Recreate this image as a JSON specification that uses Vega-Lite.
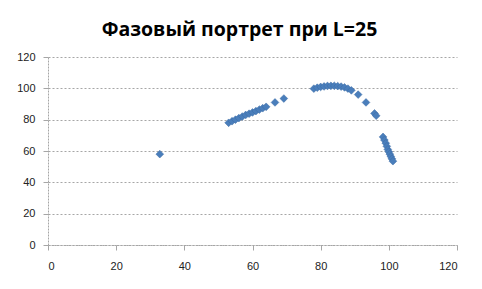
{
  "$schema": "https://vega.github.io/schema/vega-lite/v6.json",
  "autosize": "none",
  "width": 409,
  "height": 188,
  "padding": {"left": 48, "top": 57, "right": 25, "bottom": 44},
  "background": "white",
  "title": {
    "text": "Фазовый портрет при L=25",
    "font": "Open Sans",
    "fontSize": 19.5,
    "fontWeight": "bold",
    "color": "#000000",
    "anchor": "middle",
    "dx": -13,
    "offset": 11
  },
  "config": {
    "view": {"stroke": null},
    "axis": {
      "labelFont": "Liberation Sans",
      "labelFontSize": 11,
      "labelColor": "#222222",
      "gridColor": "#a6a6a6",
      "gridDash": [2, 2],
      "gridWidth": 1,
      "domainColor": "#a6a6a6",
      "domainDash": [2, 1],
      "tickColor": "#a6a6a6",
      "tickSize": 5,
      "title": null
    }
  },
  "data": {
    "values": [
      {"x": 32.8, "y": 58.0},
      {"x": 53.0, "y": 78.0},
      {"x": 54.0, "y": 79.0},
      {"x": 55.0, "y": 80.0},
      {"x": 56.0, "y": 81.0},
      {"x": 57.0, "y": 82.0},
      {"x": 58.0, "y": 83.0},
      {"x": 59.0, "y": 83.8},
      {"x": 60.0, "y": 84.6},
      {"x": 61.0, "y": 85.5},
      {"x": 62.0, "y": 86.4},
      {"x": 63.0, "y": 87.3},
      {"x": 64.0, "y": 88.2},
      {"x": 66.6, "y": 91.0},
      {"x": 69.2, "y": 93.5},
      {"x": 78.0, "y": 99.8},
      {"x": 79.0, "y": 100.4},
      {"x": 80.0, "y": 100.9},
      {"x": 81.0, "y": 101.2},
      {"x": 82.0, "y": 101.5},
      {"x": 83.0, "y": 101.6},
      {"x": 84.0, "y": 101.6},
      {"x": 85.0, "y": 101.4},
      {"x": 86.0, "y": 101.1},
      {"x": 87.0, "y": 100.6},
      {"x": 88.0, "y": 99.8},
      {"x": 89.0, "y": 98.7},
      {"x": 91.0, "y": 96.0},
      {"x": 93.3, "y": 91.0},
      {"x": 95.8, "y": 84.0},
      {"x": 96.3, "y": 82.5},
      {"x": 98.3, "y": 69.0},
      {"x": 98.7, "y": 67.0},
      {"x": 99.1, "y": 65.0},
      {"x": 99.4, "y": 63.0},
      {"x": 99.7, "y": 61.0},
      {"x": 100.0, "y": 59.5},
      {"x": 100.3, "y": 58.0},
      {"x": 100.6, "y": 56.5},
      {"x": 100.9, "y": 55.0},
      {"x": 101.2, "y": 53.5}
    ]
  },
  "mark": {"type": "point", "shape": "diamond", "filled": true, "size": 60, "color": "#4a7ebb", "stroke": "#3a6aa5", "strokeWidth": 0.5, "opacity": 1},
  "encoding": {
    "x": {"field": "x", "type": "quantitative", "scale": {"domain": [0, 120], "nice": false}, "axis": {"values": [0, 20, 40, 60, 80, 100, 120], "grid": false, "labelPadding": 10}},
    "y": {"field": "y", "type": "quantitative", "scale": {"domain": [0, 120], "nice": false}, "axis": {"values": [0, 20, 40, 60, 80, 100, 120], "grid": true, "labelPadding": 8}}
  }
}
